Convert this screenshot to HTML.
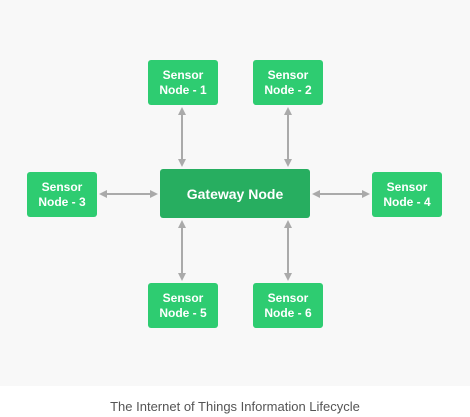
<!DOCTYPE html>
<html><head><style>
body{margin:0;width:470px;height:417px;background:#fff;font-family:"Liberation Sans",sans-serif;position:relative;overflow:hidden}
.bg{position:absolute;left:0;top:0;width:470px;height:386px;background:#f8f8f8}
.b{position:absolute;background:#2ecc71;color:#fff;font-size:12px;font-weight:bold;text-align:center;line-height:15px;border-radius:3px;display:flex;align-items:center;justify-content:center;width:70px;height:45px}
.g{position:absolute;left:160px;top:169px;width:150px;height:49px;background:#27ae60;color:#fff;font-weight:bold;font-size:14px;border-radius:3px;display:flex;align-items:center;justify-content:center}
svg{position:absolute;left:0;top:0}
.cap{position:absolute;top:399px;width:470px;text-align:center;font-size:13px;color:#555}
</style></head><body>
<div class="bg"></div>
<svg width="470" height="417">
<defs><marker id="a" markerWidth="8" markerHeight="8" refX="6" refY="4" orient="auto-start-reverse" markerUnits="userSpaceOnUse"><path d="M0,0 L8,4 L0,8z" fill="#aaa"/></marker></defs>
<g stroke="#aaa" stroke-width="2" marker-start="url(#a)" marker-end="url(#a)">
<line x1="182" y1="109" x2="182" y2="165"/>
<line x1="288" y1="109" x2="288" y2="165"/>
<line x1="182" y1="222" x2="182" y2="279"/>
<line x1="288" y1="222" x2="288" y2="279"/>
<line x1="101" y1="194" x2="156" y2="194"/>
<line x1="314" y1="194" x2="368" y2="194"/>
</g></svg>
<div class="b" style="left:148px;top:60px">Sensor<br>Node - 1</div>
<div class="b" style="left:253px;top:60px">Sensor<br>Node - 2</div>
<div class="b" style="left:27px;top:172px">Sensor<br>Node - 3</div>
<div class="b" style="left:372px;top:172px">Sensor<br>Node - 4</div>
<div class="b" style="left:148px;top:283px">Sensor<br>Node - 5</div>
<div class="b" style="left:253px;top:283px">Sensor<br>Node - 6</div>
<div class="g">Gateway Node</div>
<div class="cap">The Internet of Things Information Lifecycle</div>
</body></html>
